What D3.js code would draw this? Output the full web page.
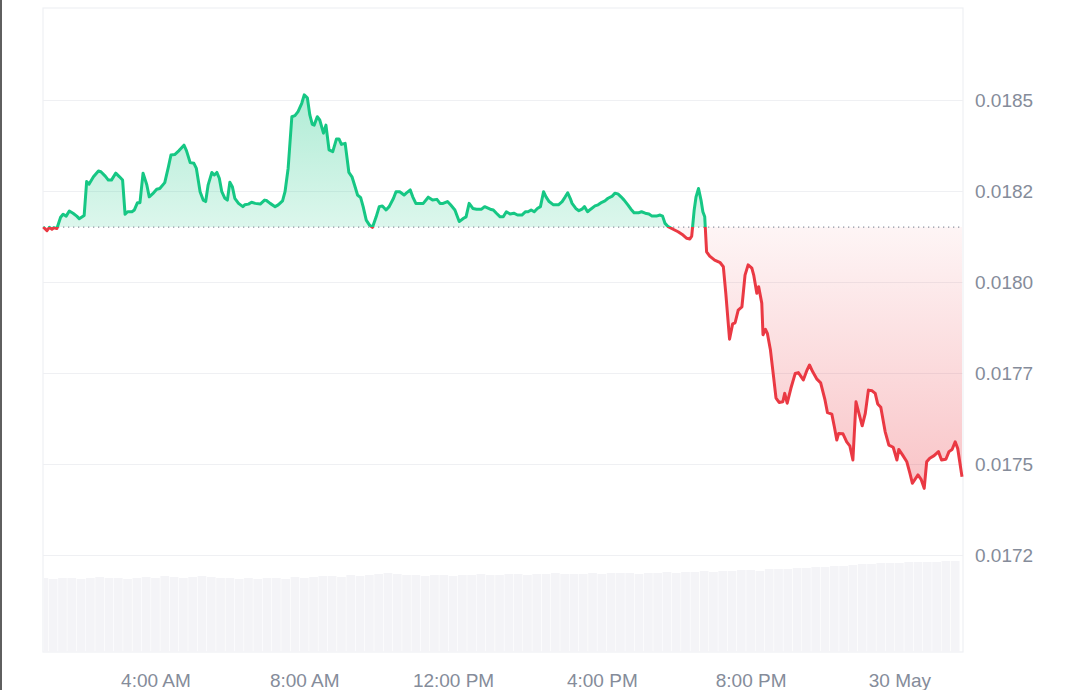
<!DOCTYPE html>
<html><head><meta charset="utf-8">
<script src="https://cdn.jsdelivr.net/npm/d3@7"></script>
<style>html,body{margin:0;padding:0;background:#fff;}svg{display:block}</style>
</head><body>
<svg id="chart" width="1080" height="690"></svg>
<script>
// minutes since 29 May 00:00
const minutes = [59,65,69,73,76,81,83,87,91,96,101,107,113,117,125,129,133,140,148,152,159,164,169,176,182,187,191,195,202,206,211,215,220,226,230,237,242,247,255,261,265,271,278,286,290,296,302,306,312,317,321,325,331,335,339,343,347,352,356,360,364,368,374,381,384,390,395,401,409,416,419,425,433,438,445,449,454,460,465,470,476,480,485,489,493,496,501,505,511,515,520,526,532,536,540,546,552,557,561,566,571,575,580,585,590,596,601,606,612,617,624,628,634,641,645,651,655,660,666,672,680,687,694,699,704,711,716,723,730,737,741,746,752,758,766,771,780,785,790,796,801,806,812,818,824,831,837,841,846,851,856,861,866,870,875,882,890,896,901,905,909,912,918,923,928,932,937,942,949,954,960,965,970,977,981,986,991,996,1002,1007,1012,1019,1024,1030,1036,1041,1048,1054,1058,1062,1067,1075,1083,1091,1097,1102,1105,1109,1112,1116,1120,1123,1126,1129,1134,1142,1151,1156,1160,1166,1171,1175,1180,1186,1191,1196,1202,1205,1210,1213,1218,1220,1224,1227,1232,1237,1241,1246,1252,1255,1259,1265,1272,1277,1285,1291,1295,1300,1307,1313,1320,1324,1331,1335,1339,1342,1349,1355,1360,1365,1370,1374,1380,1385,1390,1396,1401,1405,1410,1417,1423,1430,1436,1439,1445,1452,1457,1461,1470,1475,1480,1484,1489,1496,1503,1508,1515,1520,1525,1530,1534,1541];
const prices = [0.018151,0.018141,0.018150,0.018145,0.018149,0.018147,0.018157,0.018178,0.018186,0.018181,0.018195,0.018189,0.018181,0.018174,0.018183,0.018276,0.018269,0.018289,0.018305,0.018303,0.018291,0.018280,0.018280,0.018299,0.018289,0.018280,0.018186,0.018193,0.018193,0.018198,0.018218,0.018218,0.018299,0.018267,0.018234,0.018245,0.018255,0.018257,0.018273,0.018317,0.018349,0.018350,0.018361,0.018376,0.018361,0.018328,0.018326,0.018312,0.018248,0.018225,0.018221,0.018267,0.018301,0.018294,0.018301,0.018285,0.018248,0.018230,0.018225,0.018274,0.018262,0.018230,0.018216,0.018207,0.018212,0.018214,0.018219,0.018216,0.018214,0.018225,0.018224,0.018216,0.018207,0.018212,0.018223,0.018248,0.018312,0.018454,0.018457,0.018468,0.018491,0.018514,0.018506,0.018459,0.018433,0.018431,0.018454,0.018445,0.018409,0.018431,0.018363,0.018358,0.018393,0.018393,0.018378,0.018381,0.018301,0.018289,0.018267,0.018239,0.018232,0.018207,0.018170,0.018157,0.018150,0.018179,0.018207,0.018209,0.018198,0.018207,0.018230,0.018248,0.018248,0.018239,0.018245,0.018253,0.018234,0.018216,0.018216,0.018216,0.018233,0.018225,0.018227,0.018216,0.018216,0.018221,0.018212,0.018198,0.018166,0.018175,0.018179,0.018216,0.018202,0.018200,0.018200,0.018207,0.018200,0.018198,0.018189,0.018179,0.018179,0.018193,0.018187,0.018189,0.018184,0.018184,0.018193,0.018193,0.018198,0.018193,0.018202,0.018207,0.018248,0.018234,0.018221,0.018212,0.018212,0.018221,0.018234,0.018245,0.018230,0.018216,0.018202,0.018196,0.018200,0.018207,0.018193,0.018200,0.018209,0.018212,0.018219,0.018223,0.018230,0.018236,0.018244,0.018242,0.018234,0.018225,0.018212,0.018200,0.018190,0.018190,0.018193,0.018189,0.018187,0.018181,0.018181,0.018184,0.018181,0.018161,0.018152,0.018145,0.018138,0.018129,0.018120,0.018118,0.018126,0.018198,0.018234,0.018257,0.018225,0.018193,0.018179,0.018083,0.018071,0.018060,0.018053,0.018042,0.017969,0.017843,0.017885,0.017888,0.017923,0.017932,0.018019,0.018047,0.018038,0.018019,0.017969,0.017987,0.017942,0.017855,0.017870,0.017859,0.017813,0.017740,0.017681,0.017669,0.017671,0.017694,0.017667,0.017708,0.017749,0.017751,0.017731,0.017758,0.017772,0.017754,0.017733,0.017723,0.017676,0.017641,0.017637,0.017603,0.017566,0.017584,0.017583,0.017561,0.017550,0.017511,0.017671,0.017644,0.017605,0.017639,0.017703,0.017701,0.017694,0.017665,0.017656,0.017589,0.017552,0.017546,0.017511,0.017540,0.017525,0.017506,0.017474,0.017447,0.017470,0.017458,0.017433,0.017506,0.017516,0.017523,0.017534,0.017511,0.017513,0.017534,0.017540,0.017561,0.017543,0.017465];
const baselinePrice = 0.018151;

// volume, 15-minute bars starting 01:00 (millions)
const volumeStartMinute = 60;
const volumeStepMinutes = 15;
const volumes = [7.4,7.3,7.4,7.4,7.3,7.4,7.5,7.4,7.4,7.3,
  7.4,7.5,7.4,7.6,7.5,7.4,7.5,7.6,7.5,7.4,
  7.4,7.3,7.4,7.3,7.4,7.4,7.3,7.5,7.4,7.5,
  7.6,7.6,7.5,7.7,7.6,7.7,7.8,7.9,7.8,7.7,
  7.7,7.6,7.7,7.7,7.6,7.7,7.7,7.8,7.7,7.7,
  7.8,7.8,7.7,7.8,7.8,7.9,7.8,7.8,7.8,7.9,
  7.8,7.9,7.9,7.9,7.8,7.9,7.9,8.0,7.9,8.0,
  8.0,8.1,8.0,8.1,8.1,8.2,8.2,8.1,8.3,8.3,
  8.3,8.4,8.4,8.5,8.5,8.6,8.6,8.7,8.8,8.8,
  8.9,8.9,8.9,9.0,9.0,9.0,9.0,9.1,9.1];

const yTickValues = [0.01725,0.0175,0.01775,0.018,0.01825,0.0185];
const yTickLabels = ["0.0172","0.0175","0.0177","0.0180","0.0182","0.0185"];
const xTickHours = [4,8,12,16,20,24];
const xTickLabels = ["4:00 AM","8:00 AM","12:00 PM","4:00 PM","8:00 PM","30 May"];

const day0 = new Date(2024,4,29,0,0,0);
const toDate = m => new Date(day0.getTime() + m*60000);

const data = minutes.map((m,i)=>({t:toDate(m), p:prices[i]}));
const volData = volumes.map((v,i)=>({t:toDate(volumeStartMinute + i*volumeStepMinutes), v}));

const L = 43, R = 963, T = 8, B = 652;
const svg = d3.select("#chart");
const x = d3.scaleTime().domain([toDate(58.6), toDate(1542.6)]).range([L, R]);
const y = d3.scaleLinear().domain([0.01725, 0.0185]).range([555, 100]);
const vy = d3.scaleLinear().domain([0, 10]).range([B, B-100]);
const yb = y(baselinePrice);

// screenshot edge
svg.append("rect").attr("x",0).attr("y",0).attr("width",2).attr("height",690).attr("fill","#5f5f5f");

const defs = svg.append("defs");
const gG = defs.append("linearGradient").attr("id","gGreen").attr("gradientUnits","userSpaceOnUse")
  .attr("x1",0).attr("x2",0).attr("y1",y(0.01852)).attr("y2",yb);
gG.append("stop").attr("offset","0%").attr("stop-color","#16c784").attr("stop-opacity",0.34);
gG.append("stop").attr("offset","100%").attr("stop-color","#16c784").attr("stop-opacity",0.15);
const gR = defs.append("linearGradient").attr("id","gRed").attr("gradientUnits","userSpaceOnUse")
  .attr("x1",0).attr("x2",0).attr("y1",yb).attr("y2",y(0.01743));
gR.append("stop").attr("offset","0%").attr("stop-color","#ea3943").attr("stop-opacity",0.05);
gR.append("stop").attr("offset","100%").attr("stop-color","#ea3943").attr("stop-opacity",0.30);
defs.append("clipPath").attr("id","clipUp").append("rect").attr("x",0).attr("y",0).attr("width",1080).attr("height",yb);
defs.append("clipPath").attr("id","clipDown").append("rect").attr("x",0).attr("y",yb).attr("width",1080).attr("height",690-yb);
defs.append("clipPath").attr("id","clipPlot").append("rect").attr("x",L+0.6).attr("y",T).attr("width",R-L-1.2).attr("height",B-T);

// frame
svg.append("rect").attr("x",L).attr("y",T).attr("width",R-L).attr("height",B-T)
  .attr("fill","none").attr("stroke","#eff0f3").attr("stroke-width",1.2);

// grid + y axis labels
const yAxis = d3.axisRight(y).tickValues(yTickValues).tickSize(-(R-L)).tickPadding(12)
  .tickFormat((d,i)=>yTickLabels[i]);
const gy = svg.append("g").attr("transform",`translate(${R},0)`).call(yAxis);
gy.select(".domain").remove();
gy.selectAll(".tick line").attr("stroke","#eff0f3").attr("stroke-width",1.2);
gy.selectAll(".tick text").attr("fill","#858c9a").attr("font-family","'Liberation Sans', Arial, sans-serif")
  .attr("font-size",19).attr("x",12);

// x axis labels
const xAxis = d3.axisBottom(x).tickValues(xTickHours.map(h=>toDate(h*60))).tickSize(0).tickPadding(0)
  .tickFormat((d,i)=>xTickLabels[i]);
const gx = svg.append("g").attr("transform",`translate(0,${B})`).call(xAxis);
gx.select(".domain").remove();
gx.selectAll(".tick text").attr("fill","#858c9a").attr("font-family","'Liberation Sans', Arial, sans-serif")
  .attr("font-size",19).attr("dy",0).attr("y",35);

// volume bars
const bw = (x(toDate(volumeStepMinutes)) - x(toDate(0)));
svg.append("g").attr("clip-path","url(#clipPlot)").selectAll("rect").data(volData).join("rect")
  .attr("x", d=>x(d.t) - bw/2 + 0.3)
  .attr("width", bw - 0.6)
  .attr("y", d=>vy(d.v))
  .attr("height", d=>B - vy(d.v))
  .attr("fill","#f4f4f7");

// areas
const area = d3.area().x(d=>x(d.t)).y0(yb).y1(d=>y(d.p));
svg.append("path").datum(data).attr("d",area).attr("fill","url(#gGreen)").attr("clip-path","url(#clipUp)");
svg.append("path").datum(data).attr("d",area).attr("fill","url(#gRed)").attr("clip-path","url(#clipDown)");

// baseline
svg.append("line").attr("x1",L).attr("x2",R).attr("y1",yb).attr("y2",yb)
  .attr("stroke","#8d93a0").attr("stroke-width",1.3).attr("stroke-dasharray","1.3,3.7");

// lines
const line = d3.line().x(d=>x(d.t)).y(d=>y(d.p));
svg.append("path").datum(data).attr("d",line).attr("fill","none").attr("stroke","#16c784")
  .attr("stroke-width",3).attr("stroke-linejoin","round").attr("clip-path","url(#clipUp)");
svg.append("path").datum(data).attr("d",line).attr("fill","none").attr("stroke","#ea3943")
  .attr("stroke-width",3).attr("stroke-linejoin","round").attr("clip-path","url(#clipDown)");
</script>
</body></html>
